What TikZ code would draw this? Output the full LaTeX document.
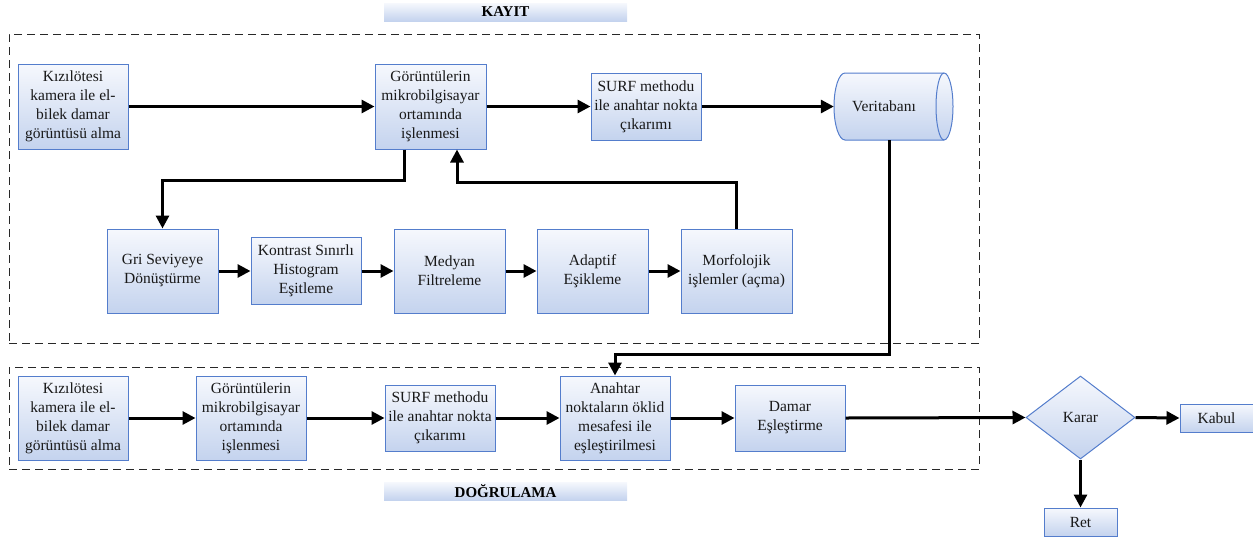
\documentclass[tikz,border=0pt]{standalone}
\usepackage{fontspec}
\setmainfont{Liberation Serif}
\usetikzlibrary{arrows.meta,shapes.geometric}
\definecolor{bordc}{RGB}{84,125,204}
\definecolor{topc}{RGB}{246,248,253}
\definecolor{botc}{RGB}{196,211,238}
\definecolor{dashc}{RGB}{40,40,40}
\tikzset{
  txt/.style={font=\fontsize{15.5}{19}\selectfont, align=center, text=black!90},
  box/.style={txt, draw=bordc, line width=1pt, top color=topc, bottom color=botc, inner sep=0pt},
  bar/.style={top color=topc, bottom color=botc, draw=none, inner sep=0pt, minimum width=243, minimum height=18, font=\fontsize{15}{18}\selectfont\bfseries},
  arr/.style={line width=3pt, -{Triangle[length=13pt,width=13pt]}},
  ln/.style={line width=3pt},
  grp/.style={draw=dashc, line width=1pt, dash pattern=on 8pt off 5pt},
}
\begin{document}
\begin{tikzpicture}[x=1pt,y=1pt]
\useasboundingbox (0,0) rectangle (1253,-539);
% group frames
\node[grp, minimum width=970, minimum height=309, inner sep=0pt] (kayitbox) at (494,-188.5) {};
\node[grp, minimum width=970, minimum height=102, inner sep=0pt] (dogbox) at (494,-418) {};
\node[bar] (kayit) at (505.5,-12) {KAYIT};
\node[bar] (dogru) at (505.5,-491) {DOĞRULAMA};
% KAYIT top row
\node[box, minimum width=110, minimum height=85] (k1) at (73,-106.5) {Kızılötesi\\kamera ile el-\\bilek damar\\görüntüsü alma};
\node[box, minimum width=111, minimum height=85] (g1) at (430.5,-106.5) {Görüntülerin\\mikrobilgisayar\\ortamında\\işlenmesi};
\node[box, minimum width=110, minimum height=67] (s1) at (646,-106.5) {SURF methodu\\ile anahtar nokta\\çıkarımı};
% database cylinder
\node[txt, minimum width=119, minimum height=67, inner sep=0pt] (db) at (893.5,-106.5) {};
\path[draw=bordc, line width=1pt, top color=topc, bottom color=botc]
  (845,-73) -- (944,-73) arc[start angle=90, end angle=-90, x radius=9, y radius=33.5]
  -- (845,-140) arc[start angle=270, end angle=90, x radius=11, y radius=33.5] -- cycle;
\draw[bordc, line width=1pt] (944,-73) arc[start angle=90, end angle=270, x radius=8, y radius=33.5];
\node[txt] (dbt) at (884,-106.5) {Veritabanı};
% KAYIT second row
\node[box, minimum width=111, minimum height=84] (gri) at (162.5,-271) {Gri Seviyeye\\Dönüştürme};
\node[box, minimum width=110, minimum height=67] (kon) at (306,-271) {Kontrast Sınırlı\\Histogram\\Eşitleme};
\node[box, minimum width=111, minimum height=84] (med) at (449.5,-271) {Medyan\\Filtreleme};
\node[box, minimum width=111, minimum height=84] (ada) at (592.5,-271) {Adaptif\\Eşikleme};
\node[box, minimum width=111, minimum height=84] (mor) at (736.5,-271) {Morfolojik\\işlemler (açma)};
% DOGRULAMA row
\node[box, minimum width=110, minimum height=84] (k2) at (73,-418) {Kızılötesi\\kamera ile el-\\bilek damar\\görüntüsü alma};
\node[box, minimum width=110, minimum height=84] (g2) at (251,-418) {Görüntülerin\\mikrobilgisayar\\ortamında\\işlenmesi};
\node[box, minimum width=110, minimum height=66] (s2) at (440,-418) {SURF methodu\\ile anahtar nokta\\çıkarımı};
\node[box, minimum width=110, minimum height=84] (an) at (615,-418) {Anahtar\\noktaların öklid\\mesafesi ile\\eşleştirilmesi};
\node[box, minimum width=110, minimum height=66] (dam) at (790,-418) {Damar\\Eşleştirme};
\node[box, shape=diamond, minimum width=109, minimum height=83] (karar) at (1080.5,-417.5) {Karar};
\node[box, minimum width=73, minimum height=28] (kabul) at (1216.5,-418) {Kabul};
\node[box, minimum width=73, minimum height=28] (ret) at (1080.5,-522) {Ret};
% connectors KAYIT
\draw[arr] (k1.east) -- (g1.west);
\draw[arr] (g1.east) -- (s1.west);
\draw[arr] (s1.east) -- (db.west);
\draw[arr] ([xshift=-26.5]g1.south) -- ++(0,-31) -| (gri.north);
\draw[arr] (mor.north) |- ([xshift=26.5,yshift=-33]g1.south) -- ([xshift=26.5]g1.south);
\draw[arr] (gri.east) -- (kon.west);
\draw[arr] (kon.east) -- (med.west);
\draw[arr] (med.east) -- (ada.west);
\draw[arr] (ada.east) -- (mor.west);
\draw[arr] ([xshift=-4.5]db.south) |- ([yshift=21]an.north) -- (an.north);
% connectors DOGRULAMA
\draw[arr] (k2.east) -- (g2.west);
\draw[arr] (g2.east) -- (s2.west);
\draw[arr] (s2.east) -- (an.west);
\draw[arr] (an.east) -- (dam.west);
\draw[arr] (dam.east) -- (karar.west);
\draw[arr] (karar.east) -- (kabul.west);
\draw[arr] (karar.south) -- (ret.north);
\end{tikzpicture}
\end{document}
